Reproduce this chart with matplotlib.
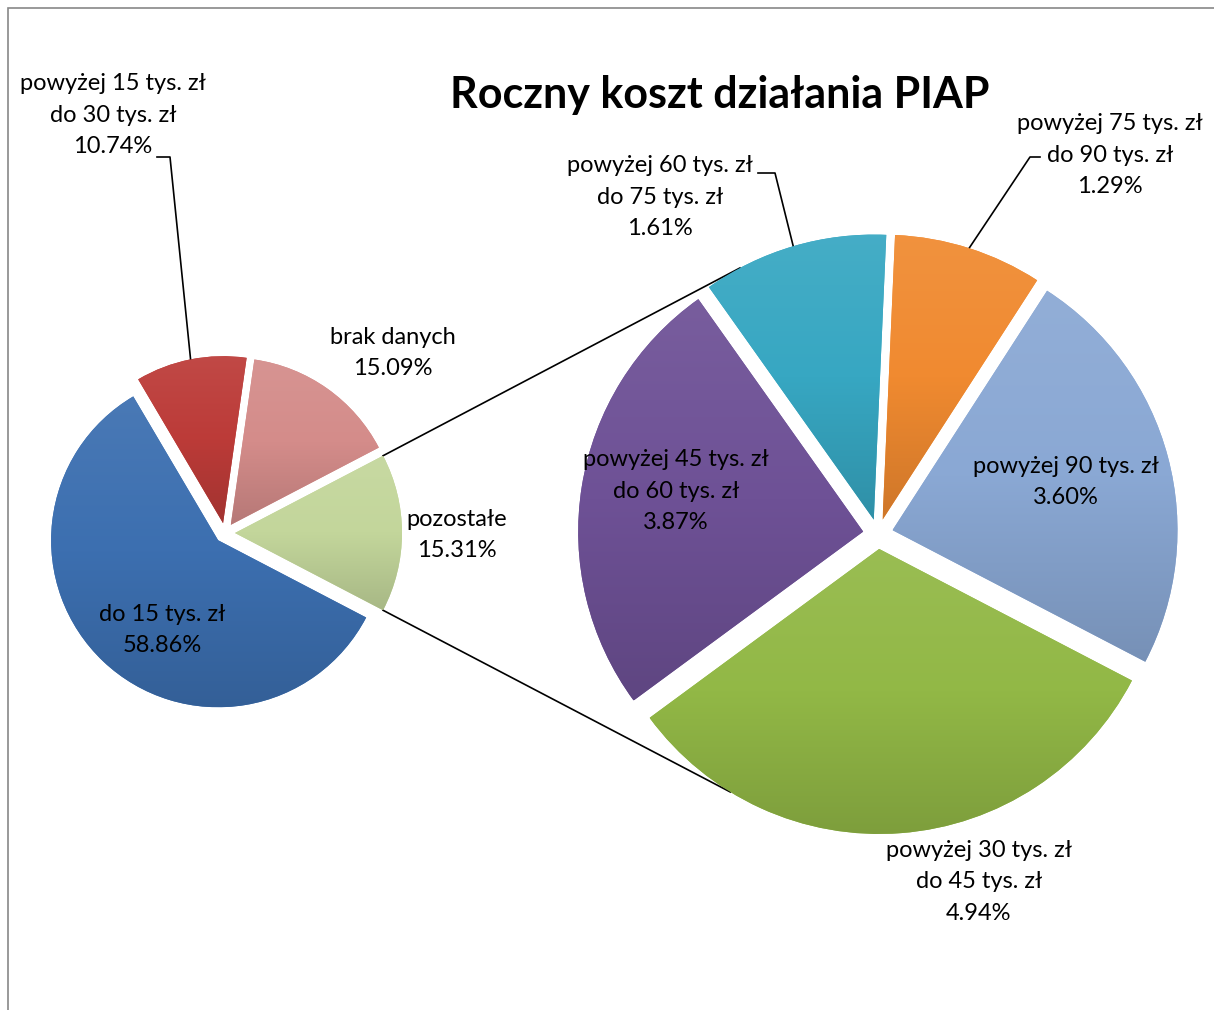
import numpy as np
import matplotlib
matplotlib.use('Agg')
import matplotlib.pyplot as plt
from matplotlib.colors import LinearSegmentedColormap, to_rgb
from matplotlib.patches import Rectangle

# data
title = 'Roczny koszt działania PIAP'

left_labels = ['do 15 tys. zł', 'powyżej 15 tys. zł\ndo 30 tys. zł', 'brak danych', 'pozostałe']
left_values = [58.86, 10.74, 15.09, 15.31]
left_colors = ['#3C6FB0', '#BC3B38', '#D48C8A', '#C3D69B']

right_labels = ['powyżej 30 tys. zł\ndo 45 tys. zł', 'powyżej 45 tys. zł\ndo 60 tys. zł',
                'powyżej 60 tys. zł\ndo 75 tys. zł', 'powyżej 75 tys. zł\ndo 90 tys. zł',
                'powyżej 90 tys. zł']
right_values = [4.94, 3.87, 1.61, 1.29, 3.60]
right_colors = ['#92B846', '#6E5196', '#37A7C2', '#F08A30', '#8AA8D4']

W, H = 1214, 1010
FONT = ['Lato', 'DejaVu Sans']


def py(y):
    # pixel row -> data y
    return H - y


def mix(c, other, t):
    c = np.array(to_rgb(c))
    return tuple(c * (1 - t) + np.array(other) * t)


def shade(ax, w, color):
    ext = w.get_path().get_extents()
    cmap = LinearSegmentedColormap.from_list('g', [mix(color, (1, 1, 1), 0.07), color,
                                                   mix(color, (0, 0, 0), 0.14)])
    grad = np.linspace(0, 1, 256).reshape(-1, 1)
    im = ax.imshow(grad, extent=[ext.x0, ext.x1, ext.y0, ext.y1], origin='upper',
                   cmap=cmap, aspect='auto', zorder=2, interpolation='bilinear')
    im.set_clip_path(w)


fig = plt.figure(figsize=(W / 100, H / 100), dpi=100)
ax = fig.add_axes([0, 0, 1, 1])

# main pie
lc = (225, py(533))
lr = 167
lw_, _ = ax.pie(left_values, colors=left_colors, center=lc, radius=lr,
                explode=[10] * len(left_values), startangle=-left_values[3] / 100 * 180,
                counterclock=False, wedgeprops=dict(linewidth=0), frame=True)

# secondary pie
rc = (878, py(534))
rr = 285
rw_, _ = ax.pie(right_values, colors=right_colors, center=rc, radius=rr,
                explode=[15] * len(right_values), startangle=-27.5,
                counterclock=False, wedgeprops=dict(linewidth=0), frame=True)

for w, c in zip(lw_, left_colors):
    shade(ax, w, c)
for w, c in zip(rw_, right_colors):
    shade(ax, w, c)


def arc_point(w, ang):
    a = np.deg2rad(ang)
    return w.center[0] + w.r * np.cos(a), w.center[1] + w.r * np.sin(a)


# connector lines between the "pozostałe" slice and the second pie
other = lw_[3]
p1 = arc_point(other, other.theta2)
p2 = arc_point(other, other.theta1)
q1 = arc_point(rw_[2], 118)
q2 = arc_point(rw_[0], -121.5)
ax.plot([p1[0], q1[0]], [p1[1], q1[1]], color='black', lw=1.2, zorder=1)
ax.plot([p2[0], q2[0]], [p2[1], q2[1]], color='black', lw=1.2, zorder=1)


def mid_point(w):
    return arc_point(w, (w.theta1 + w.theta2) / 2)


fs = 17
ls = 1.6
kw = dict(ha='center', va='center', fontsize=fs, family=FONT, linespacing=ls, zorder=5)

# left labels
ax.text(162, py(630), f'{left_labels[0]}\n{left_values[0]:.2f}%', **kw)
ax.text(113, py(115), f'{left_labels[1]}\n{left_values[1]:.2f}%', **kw)
ax.text(393, py(353), f'{left_labels[2]}\n{left_values[2]:.2f}%', **kw)
ax.text(457, py(535), f'{left_labels[3]}\n{left_values[3]:.2f}%', **kw)

# right labels
ax.text(979, py(882), f'{right_labels[0]}\n{right_values[0]:.2f}%', **kw)
ax.text(676, py(491), f'{right_labels[1]}\n{right_values[1]:.2f}%', **kw)
ax.text(660, py(197), f'{right_labels[2]}\n{right_values[2]:.2f}%', **kw)
ax.text(1110, py(155), f'{right_labels[3]}\n{right_values[3]:.2f}%', **kw)
ax.text(1066, py(482), f'{right_labels[4]}\n{right_values[4]:.2f}%', **kw)

# leader lines
m = mid_point(lw_[1])
ax.plot([157, 170, m[0]], [py(157), py(157), m[1]], color='black', lw=1.2, zorder=1)
m = mid_point(rw_[2])
ax.plot([758, 775, m[0]], [py(173), py(173), m[1]], color='black', lw=1.2, zorder=1)
m = mid_point(rw_[3])
ax.plot([1040, 1030, m[0]], [py(157), py(157), m[1]], color='black', lw=1.2, zorder=1)

ax.text(720, py(95), title, ha='center', va='center', fontsize=31, fontweight='bold',
        family=FONT, zorder=5)

# chart area border (right and bottom cut off)
ax.add_patch(Rectangle((8, -20), W + 50, H - 8 + 20, fill=False, edgecolor='#888888', lw=1.2, zorder=0))

ax.set_xlim(0, W)
ax.set_ylim(0, H)
ax.set_aspect('auto')
ax.axis('off')

fig.savefig('out.png', dpi=100)
